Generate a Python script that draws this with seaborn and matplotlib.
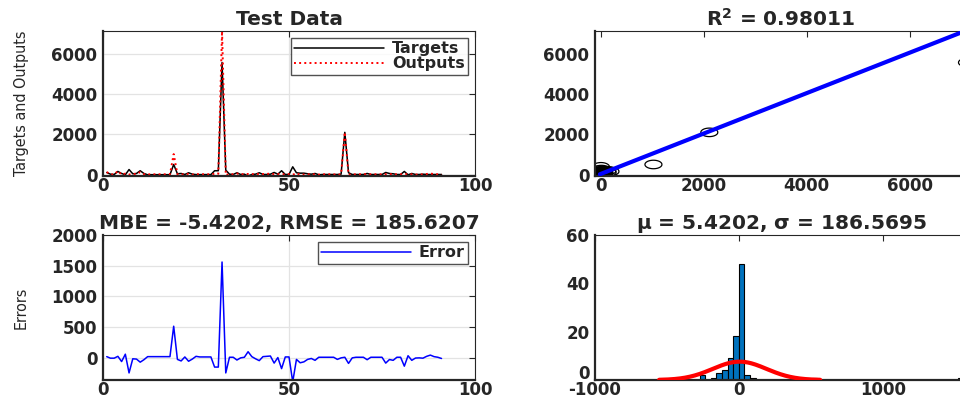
import numpy as np
import pandas as pd
import matplotlib
matplotlib.use("Agg")
import matplotlib.pyplot as plt
import matplotlib.transforms as mtransforms
from matplotlib.path import Path
import seaborn as sns

# ---- data -------------------------------------------------------------
sample_index = list(range(1, 92))

targets = [115, 30, 15, 165, 65, 0, 260, 50, 65, 200,
           65, 0, 5, 5, 5, 5, 5, 5, 510, 50,
           65, 15, 100, 30, 10, 10, 10, 10, 10, 200,
           200, 5555, 230, 30, 15, 100, 15, 30, -60, 15,
           30, 100, 15, 15, 30, 115, 30, 200, 15, 15,
           395, 100, 80, 80, 50, 30, 65, 0, 15, 15,
           15, 15, 15, 30, 2100, 100, 15, 15, 15, 15,
           65, 15, 15, 15, 15, 115, 65, 50, 15, 15,
           165, 0, 65, 15, 15, 30, 15, 15, 15, 15, 15]

errors = [20, -5, -5, 25, -60, 60, -245, -15, -20, -70,
          -30, 20, 20, 20, 20, 20, 20, 20, 515, -25,
          -50, 15, -55, -20, 25, 15, 15, 15, 15, -150,
          -150, 1560, -245, 10, 10, -35, 0, 10, 100, 20,
          -15, -45, 20, 25, 30, -85, 5, -175, 15, 15,
          -390, -25, -80, -65, -25, -10, -40, 10, 10, 10,
          10, 10, -25, 0, 10, -90, 0, 10, 10, 10,
          -30, 10, 10, 10, 10, -85, -27, -40, 10, 10,
          -135, 35, -40, -3, 0, -5, 25, 45, 20, 10,
          -10]

r_squared = "0.98011"
mbe = -5.4202
rmse = 185.6207
mu = 5.4202
sigma = 186.5695
fit_slope = 1.0
fit_intercept = 40.0
n_bins = 50

outputs = [t + e for t, e in zip(targets, errors)]

series = pd.DataFrame({"idx": sample_index, "Targets": targets,
                       "Outputs": outputs, "Error": errors})

# ---- style ------------------------------------------------------------
sns.set_theme(style="white")
plt.rcParams.update({
    "font.family": ["DejaVu Sans"],
    "font.weight": "bold",
    "axes.unicode_minus": False,
    "mathtext.fontset": "dejavusans",
    "mathtext.default": "bf",
    "xtick.direction": "in",
    "ytick.direction": "in",
    "xtick.major.size": 4,
    "ytick.major.size": 4,
    "xtick.major.width": 0.8,
    "ytick.major.width": 0.8,
    "xtick.color": "#262626",
    "ytick.color": "#262626",
})

TICK_FS = 12
TITLE_FS = 14.5
LEG_FS = 11.5
DARK = "#262626"
GRID = "#e3e3e3"

fig = plt.figure(figsize=(9.6, 4.01), dpi=100)
ax_tl = fig.add_axes([0.1073, 0.5611, 0.3875, 0.3616])
ax_tr = fig.add_axes([0.6198, 0.5611, 0.3875, 0.3616])
ax_bl = fig.add_axes([0.1073, 0.0524, 0.3875, 0.3616])
ax_br = fig.add_axes([0.6198, 0.0524, 0.3875, 0.3616])


def frame(ax, grid):
    for side in ("left", "bottom"):
        ax.spines[side].set_linewidth(1.6)
        ax.spines[side].set_color(DARK)
    for side in ("top", "right"):
        ax.spines[side].set_linewidth(0.8)
        ax.spines[side].set_color(DARK)
    ax.tick_params(axis="both", which="both", top=True, right=True,
                   labelsize=TICK_FS)
    ax.tick_params(axis="x", pad=1)
    ax.tick_params(axis="y", pad=4)
    for lab in ax.get_xticklabels() + ax.get_yticklabels():
        lab.set_fontweight("bold")
    if grid:
        ax.grid(True, color=GRID, linewidth=0.9)
        ax.set_axisbelow(True)
    else:
        ax.grid(False)


def legend(ax, fs):
    leg = ax.legend(loc="upper right", frameon=True, fancybox=False,
                    handlelength=5.6, borderpad=0.2, labelspacing=0.0,
                    handletextpad=0.5, borderaxespad=0.45,
                    prop={"weight": "bold", "size": fs})
    leg.get_frame().set_edgecolor(DARK)
    leg.get_frame().set_linewidth(1.0)
    return leg


def side_label(ax, text):
    ax.set_ylabel(text, fontsize=11.5, fontweight="normal",
                  fontstretch="condensed")
    ax.yaxis.set_label_coords(-0.2, 0.5)


# ---- top left: targets vs outputs over samples -----------------------
sns.lineplot(data=series, x="idx", y="Targets", ax=ax_tl, color="black",
             linewidth=1.1, label="Targets")
sns.lineplot(data=series, x="idx", y="Outputs", ax=ax_tl, color="red",
             linewidth=1.4, linestyle=":", label="Outputs")
ax_tl.set_xlim(0, 100)
ax_tl.set_ylim(min(min(targets), min(outputs)), max(outputs))
ax_tl.set_xticks([0, 50, 100])
ax_tl.set_yticks([0, 2000, 4000, 6000])
ax_tl.set_xlabel("")
side_label(ax_tl, "Targets and Outputs")
ax_tl.set_title("Test Data", fontsize=TITLE_FS, fontweight="bold", pad=4)
frame(ax_tl, grid=True)
legend(ax_tl, LEG_FS)

# ---- top right: regression scatter -----------------------------------
t = np.linspace(0, 2 * np.pi, 64)
ellipse = Path(np.column_stack([np.cos(t), 0.5 * np.sin(t)]))
sns.scatterplot(data=series, x="Outputs", y="Targets", ax=ax_tr,
                marker=ellipse, s=150, facecolor="none",
                edgecolor="black", linewidth=0.9, zorder=2)
fit_x = np.array([min(outputs), max(outputs)])
fit_df = pd.DataFrame({"x": fit_x, "y": fit_slope * fit_x + fit_intercept})
sns.lineplot(data=fit_df, x="x", y="y", ax=ax_tr, color="#0000ff",
             linewidth=3.0, zorder=3)
ax_tr.set_xlim(-110, max(outputs))
ax_tr.set_ylim(min(min(targets), min(outputs)), max(outputs))
ax_tr.set_xticks([0, 2000, 4000, 6000])
ax_tr.set_yticks([0, 2000, 4000, 6000])
ax_tr.set_xlabel("")
ax_tr.set_ylabel("")
ax_tr.set_title(r"R$^{2}$ = " + r_squared, fontsize=TITLE_FS,
                fontweight="bold", pad=4)
frame(ax_tr, grid=False)

# ---- bottom left: error series ---------------------------------------
sns.lineplot(data=series, x="idx", y="Error", ax=ax_bl, color="#0000ff",
             linewidth=1.1, label="Error")
ax_bl.set_xlim(0, 100)
ax_bl.set_ylim(-360, 2000)
ax_bl.set_xticks([0, 50, 100])
ax_bl.set_yticks([0, 500, 1000, 1500, 2000])
ax_bl.set_xlabel("")
side_label(ax_bl, "Errors")
ax_bl.set_title(f"MBE = {mbe:.4f}, RMSE = {rmse:.4f}", fontsize=TITLE_FS,
                fontweight="bold", pad=4)
frame(ax_bl, grid=True)
legend(ax_bl, LEG_FS)

# ---- bottom right: error histogram with normal fit -------------------
sns.histplot(x=errors, bins=n_bins, ax=ax_br, color="#0072BD", alpha=1.0,
             edgecolor="black", linewidth=0.8, zorder=2)
bin_width = (max(errors) - min(errors)) / n_bins
gx = np.linspace(mu - 3 * sigma, mu + 3 * sigma, 200)
gy = len(errors) * bin_width * np.exp(-0.5 * ((gx - mu) / sigma) ** 2) / (
    sigma * np.sqrt(2 * np.pi))
sns.lineplot(x=gx, y=gy, ax=ax_br, color="red", linewidth=3.0, zorder=3)
ax_br.set_xlim(-1000, 1586)
ax_br.set_ylim(0, 60)
ax_br.set_xticks([-1000, 0, 1000])
ax_br.set_yticks([0, 20, 40, 60])
ax_br.set_xlabel("")
ax_br.set_ylabel("")
ax_br.set_title(rf"$\mu$ = {mu:.4f}, $\sigma$ = {sigma:.4f}",
                fontsize=TITLE_FS, fontweight="bold", pad=4)
frame(ax_br, grid=False)
# sit the histogram's zero label just above the -1000 label beneath it
zero_lab = ax_br.yaxis.get_major_ticks()[0].label1
zero_lab.set_verticalalignment("bottom")
zero_lab.set_transform(zero_lab.get_transform() + mtransforms.ScaledTranslation(
    0, -2 / 72, fig.dpi_scale_trans))

fig.savefig("out.png", dpi=100)
